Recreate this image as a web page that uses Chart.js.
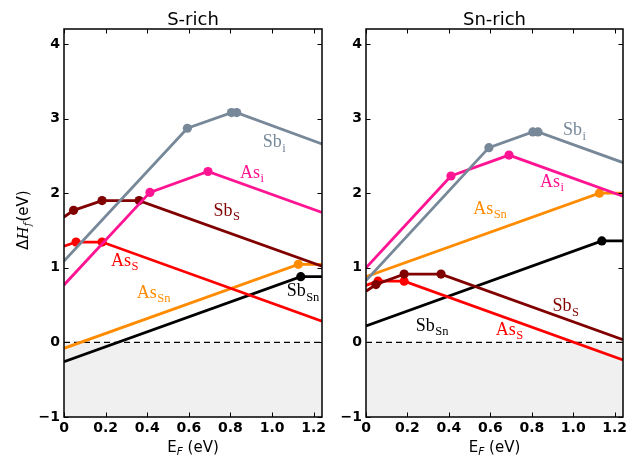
<!DOCTYPE html>
<html><head><meta charset="utf-8">
<script src="https://cdn.jsdelivr.net/npm/chart.js@4/dist/chart.umd.min.js"></script>
<style>
html,body{margin:0;padding:0;background:#fff;width:628px;height:455px;overflow:hidden}
.box{position:absolute;top:0;height:455px}
canvas{display:block}
</style></head><body>
<div class="box" style="left:0;width:330px"><canvas id="c1" width="330" height="455"></canvas></div>
<div class="box" style="left:330px;width:298px"><canvas id="c2" width="298" height="455"></canvas></div>
<script>
// ---- tick labels ----
const xTicks = [0, 0.2, 0.4, 0.6, 0.8, 1.0, 1.2];
const xTickLabels = ['0', '0.2', '0.4', '0.6', '0.8', '1.0', '1.2'];
const yTicks = [-1, 0, 1, 2, 3, 4];
const yTickLabels = ['\u22121', '0', '1', '2', '3', '4'];
const xRange = [0, 1.24];
const yRange = [-1, 4.2];

// ---- series names ----
const seriesMain = ['Sb', 'As', 'Sb', 'As', 'As', 'Sb'];
const seriesSub  = ['i', 'i', 'S', 'S', 'Sn', 'Sn'];

// ---- S-rich panel: Fermi energy (eV) and formation enthalpy (eV) ----
const sRich_Sbi_E  = [0, 0.593, 0.805, 0.83, 1.24];
const sRich_Sbi_H  = [1.09, 2.87, 3.08, 3.08, 2.66];
const sRich_Asi_E  = [0, 0.413, 0.692, 1.24];
const sRich_Asi_H  = [0.77, 2.01, 2.29, 1.74];
const sRich_SbS_E  = [0, 0.046, 0.183, 0.361, 1.24];
const sRich_SbS_H  = [1.68, 1.77, 1.90, 1.90, 1.02];
const sRich_AsS_E  = [0, 0.058, 0.183, 1.24];
const sRich_AsS_H  = [1.29, 1.345, 1.345, 0.285];
const sRich_AsSn_E = [0, 1.126, 1.24];
const sRich_AsSn_H = [-0.08, 1.046, 1.046];
const sRich_SbSn_E = [0, 1.138, 1.24];
const sRich_SbSn_H = [-0.26, 0.88, 0.88];

// ---- Sn-rich panel ----
const snRich_Sbi_E  = [0, 0.593, 0.805, 0.83, 1.24];
const snRich_Sbi_H  = [0.83, 2.61, 2.82, 2.82, 2.41];
const snRich_Asi_E  = [0, 0.41, 0.69, 1.24];
const snRich_Asi_H  = [1.0, 2.23, 2.51, 1.96];
const snRich_SbS_E  = [0, 0.048, 0.184, 0.362, 1.24];
const snRich_SbS_H  = [0.685, 0.775, 0.915, 0.915, 0.037];
const snRich_AsS_E  = [0, 0.058, 0.184, 1.24];
const snRich_AsS_H  = [0.765, 0.82, 0.82, -0.236];
const snRich_AsSn_E = [0, 1.126, 1.24];
const snRich_AsSn_H = [0.88, 2.0, 2.0];
const snRich_SbSn_E = [0, 1.138, 1.24];
const snRich_SbSn_H = [0.22, 1.36, 1.36];

// ---- styling (kept out of the data) ----
const colors = ['#778899', '#ff1493', '#800000', '#ff0000', '#ff8c00', '#000000'];

const sRichSeries = [
  [sRich_Sbi_E, sRich_Sbi_H], [sRich_Asi_E, sRich_Asi_H], [sRich_SbS_E, sRich_SbS_H],
  [sRich_AsS_E, sRich_AsS_H], [sRich_AsSn_E, sRich_AsSn_H], [sRich_SbSn_E, sRich_SbSn_H]
];
const snRichSeries = [
  [snRich_Sbi_E, snRich_Sbi_H], [snRich_Asi_E, snRich_Asi_H], [snRich_SbS_E, snRich_SbS_H],
  [snRich_AsS_E, snRich_AsS_H], [snRich_AsSn_E, snRich_AsSn_H], [snRich_SbSn_E, snRich_SbSn_H]
];

// label anchors (data coordinates), same order as series
const sRichLabelAt  = [[0.955, 2.68], [0.846, 2.27], [0.718, 1.76], [0.226, 1.09], [0.35, 0.66], [1.07, 0.68]];
const snRichLabelAt = [[0.95, 2.84], [0.84, 2.15], [0.90, 0.48], [0.626, 0.165], [0.517, 1.79], [0.24, 0.22]];

function seg(ctx, x1, y1, x2, y2) { ctx.beginPath(); ctx.moveTo(x1, y1); ctx.lineTo(x2, y2); ctx.stroke(); }

function makeDeco(title, showY, labelAt) {
  return {
    id: 'deco',
    afterDraw(chart) {
      const ctx = chart.ctx, a = chart.chartArea, xs = chart.scales.x, ys = chart.scales.y;
      ctx.save();
      // inward ticks
      ctx.strokeStyle = '#000'; ctx.lineWidth = 1;
      for (const v of xTicks) {
        const px = Math.round(xs.getPixelForValue(v)) + 0.5;
        seg(ctx, px, a.bottom, px, a.bottom - 4.5);
        seg(ctx, px, a.top, px, a.top + 4.5);
      }
      for (const v of yTicks) {
        const py = Math.round(ys.getPixelForValue(v)) + 0.5;
        seg(ctx, a.left, py, a.left + 4.5, py);
        seg(ctx, a.right, py, a.right - 4.5, py);
      }
      // frame
      ctx.lineWidth = 1.5;
      ctx.strokeRect(a.left, a.top, a.right - a.left, a.bottom - a.top);
      // title
      ctx.fillStyle = '#000';
      ctx.font = '18px "DejaVu Sans"';
      ctx.textAlign = 'center'; ctx.textBaseline = 'alphabetic';
      const cx = (a.left + a.right) / 2;
      ctx.fillText(title, cx, 25);
      // x label: E_F (eV)
      ctx.textAlign = 'left';
      const fMain = '15px "DejaVu Sans"', fSub = 'italic 10.5px "DejaVu Sans"';
      ctx.font = fMain; const wE = ctx.measureText('E').width;
      ctx.font = fSub; const wF = ctx.measureText('F').width;
      ctx.font = fMain; const wR = ctx.measureText(' (eV)').width;
      let x0 = cx - (wE + wF + wR) / 2;
      const by = 452;
      ctx.font = fMain; ctx.fillText('E', x0, by);
      ctx.font = fSub; ctx.fillText('F', x0 + wE, by + 2.5);
      ctx.font = fMain; ctx.fillText(' (eV)', x0 + wE + wF, by);
      // y label
      if (showY) {
        ctx.save();
        ctx.translate(28, 220);
        ctx.rotate(-Math.PI / 2);
        const fI = 'italic 15px "DejaVu Serif"', fs = 'italic 10.5px "DejaVu Serif"';
        ctx.font = fMain; const wD = ctx.measureText('\u0394').width;
        ctx.font = fI; const wH = ctx.measureText('H').width;
        ctx.font = fs; const wf = ctx.measureText('f').width;
        ctx.font = fMain; const wr = ctx.measureText('(eV)').width;
        let s = -(wD + wH + wf + wr + 1) / 2;
        ctx.font = fMain; ctx.fillText('\u0394', s, 0); s += wD;
        ctx.font = fI; ctx.fillText('H', s, 0); s += wH;
        ctx.font = fs; ctx.fillText('f', s, 3); s += wf + 1;
        ctx.font = fMain; ctx.fillText('(eV)', s, 0);
        ctx.restore();
      }
      // series labels
      ctx.textBaseline = 'middle'; ctx.textAlign = 'left';
      labelAt.forEach((p, i) => {
        const px = xs.getPixelForValue(p[0]), py = ys.getPixelForValue(p[1]);
        ctx.fillStyle = colors[i];
        ctx.font = '18px "Liberation Serif"';
        ctx.fillText(seriesMain[i], px, py);
        const w = ctx.measureText(seriesMain[i]).width;
        ctx.font = '12.5px "Liberation Serif"';
        ctx.fillText(seriesSub[i], px + w + 0.5, py + 6);
      });
      ctx.restore();
    }
  };
}

function makeChart(id, series, title, showY, labelAt, yWidth, padRight) {
  const datasets = [{
    data: [{x: xRange[0], y: 0}, {x: xRange[1], y: 0}],
    borderColor: '#000', borderWidth: 1.2, borderDash: [6, 4],
    backgroundColor: '#f0f0f0', fill: 'start', pointRadius: 0, order: 100
  }];
  series.forEach((s, i) => {
    datasets.push({
      data: s[0].map((e, k) => ({x: e, y: s[1][k]})),
      borderColor: colors[i], backgroundColor: colors[i],
      borderWidth: 2.8, fill: false, tension: 0,
      pointRadius: c => (c.dataIndex === 0 || c.dataIndex === s[0].length - 1) ? 0 : 4.6,
      pointHoverRadius: 0, pointBorderWidth: 0, order: i
    });
  });
  const tickFont = {family: 'DejaVu Sans', size: 14, weight: 'bold'};
  new Chart(document.getElementById(id), {
    type: 'line',
    data: {datasets},
    options: {
      responsive: false, animation: false, devicePixelRatio: 1,
      layout: {padding: {top: 29, right: padRight, left: 0, bottom: 0}},
      plugins: {legend: {display: false}, tooltip: {enabled: false}, title: {display: false}},
      events: [],
      scales: {
        x: {
          type: 'linear', min: xRange[0], max: xRange[1],
          afterBuildTicks: sc => { sc.ticks = xTicks.map(v => ({value: v})); },
          ticks: {callback: (v, i) => xTickLabels[i], font: tickFont, color: '#000', padding: 3, maxRotation: 0, autoSkip: false},
          grid: {display: false, drawTicks: false}, border: {display: false},
          afterFit: sc => { sc.height = 38; sc.paddingLeft = 0; sc.paddingRight = 0; }
        },
        y: {
          type: 'linear', min: yRange[0], max: yRange[1],
          afterBuildTicks: sc => { sc.ticks = yTicks.map(v => ({value: v})); },
          ticks: {callback: (v, i) => yTickLabels[i], font: tickFont, color: '#000', padding: 4, autoSkip: false},
          grid: {display: false, drawTicks: false}, border: {display: false},
          afterFit: sc => { sc.width = yWidth; }
        }
      }
    },
    plugins: [makeDeco(title, showY, labelAt)]
  });
}

makeChart('c1', sRichSeries, 'S-rich', true, sRichLabelAt, 64, 8);
makeChart('c2', snRichSeries, 'Sn-rich', false, snRichLabelAt, 36, 5);
</script>
</body></html>
